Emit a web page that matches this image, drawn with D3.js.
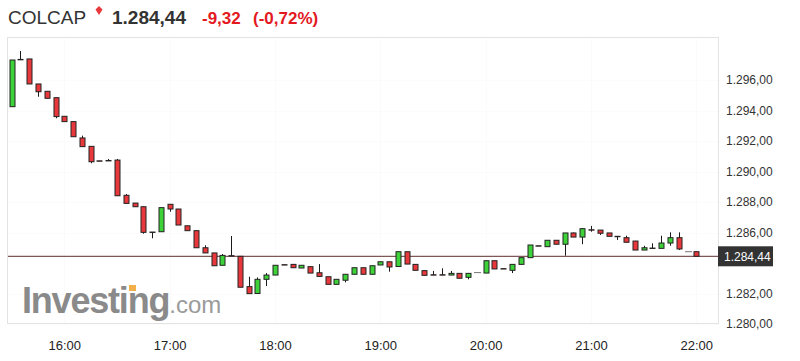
<!DOCTYPE html>
<html>
<head>
<meta charset="utf-8">
<script src="https://cdn.jsdelivr.net/npm/d3@7"></script>
<style>
  body { margin: 0; background: #fff; }
  svg { display: block; font-family: "Liberation Sans", Arial, sans-serif; }
</style>
</head>
<body>
<div id="chart"></div>
<script>
const width = 800;
const height = 361;

// 5 minute candles, first one at 15:30
const startHour = 15, startMinute = 30;
const opens  = [1294.25, 1297.35, 1297.38, 1295.74, 1295.26, 1294.84, 1293.62, 1293.27, 1292.20, 1291.65,
                1290.70, 1290.72, 1290.75, 1288.44, 1287.93, 1287.69, 1286.03, 1286.05, 1287.85, 1287.54,
                1286.44, 1286.12, 1285.00, 1284.66, 1283.85, 1284.48, 1284.44, 1282.45, 1282.00, 1282.93,
                1283.21, 1283.89, 1283.91, 1283.67, 1283.76, 1283.36, 1283.10, 1282.60, 1282.87, 1283.26,
                1283.69, 1283.26, 1283.87, 1284.08, 1283.77, 1284.74, 1283.91, 1283.50, 1283.23, 1283.23,
                1283.21, 1283.32, 1283.06, 1283.37, 1283.34, 1284.15, 1283.63, 1283.52, 1283.91, 1284.35,
                1285.13, 1285.07, 1285.49, 1285.23, 1285.97, 1285.70, 1286.18, 1286.16, 1285.97, 1285.75,
                1285.66, 1285.44, 1284.85, 1284.98, 1284.96, 1285.31, 1285.66, 1284.74, 1284.74];
const highs  = [1297.31, 1297.90, 1297.38, 1295.74, 1295.26, 1294.84, 1293.62, 1293.27, 1292.35, 1291.65,
                1290.70, 1290.82, 1290.82, 1288.52, 1287.93, 1287.69, 1286.03, 1287.63, 1287.85, 1287.54,
                1286.44, 1286.12, 1285.16, 1284.66, 1284.59, 1285.77, 1284.44, 1283.10, 1283.05, 1283.34,
                1283.85, 1283.89, 1283.91, 1283.85, 1283.76, 1283.93, 1283.10, 1282.93, 1283.26, 1283.69,
                1283.69, 1283.82, 1284.08, 1284.08, 1284.74, 1284.74, 1283.91, 1283.50, 1283.48, 1283.65,
                1283.48, 1283.32, 1283.32, 1283.37, 1284.15, 1284.15, 1283.63, 1283.91, 1284.35, 1285.18,
                1285.13, 1285.49, 1285.49, 1285.97, 1286.00, 1286.30, 1286.43, 1286.16, 1285.97, 1285.75,
                1285.79, 1285.44, 1285.13, 1285.29, 1285.79, 1286.01, 1286.01, 1284.74, 1284.74];
const lows   = [1294.25, 1297.33, 1295.74, 1294.90, 1294.80, 1293.49, 1293.27, 1292.28, 1291.63, 1290.54,
                1290.68, 1290.70, 1288.41, 1287.91, 1287.69, 1285.92, 1285.62, 1286.05, 1287.36, 1286.49,
                1286.12, 1285.00, 1284.66, 1283.82, 1283.85, 1284.46, 1282.41, 1281.99, 1282.00, 1282.49,
                1283.21, 1283.87, 1283.69, 1283.67, 1283.34, 1283.12, 1282.60, 1282.60, 1282.73, 1283.26,
                1283.26, 1283.26, 1283.87, 1283.43, 1283.77, 1283.93, 1283.52, 1283.19, 1283.21, 1283.21,
                1283.21, 1283.00, 1282.93, 1283.37, 1283.34, 1283.61, 1283.61, 1283.34, 1283.91, 1284.35,
                1285.11, 1285.07, 1285.23, 1284.48, 1285.70, 1285.23, 1286.05, 1285.84, 1285.75, 1285.51,
                1285.36, 1284.85, 1284.85, 1284.96, 1284.96, 1285.13, 1284.85, 1284.74, 1284.44];
const closes = [1297.31, 1297.33, 1295.74, 1295.23, 1294.80, 1293.60, 1293.27, 1292.28, 1291.63, 1290.64,
                1290.68, 1290.70, 1288.41, 1287.91, 1287.69, 1286.01, 1286.01, 1287.63, 1287.54, 1286.49,
                1286.12, 1285.00, 1284.66, 1283.82, 1284.50, 1284.46, 1282.41, 1281.99, 1282.93, 1283.21,
                1283.85, 1283.87, 1283.69, 1283.85, 1283.34, 1283.12, 1282.60, 1282.93, 1283.26, 1283.69,
                1283.26, 1283.82, 1284.08, 1283.74, 1284.74, 1283.93, 1283.52, 1283.19, 1283.21, 1283.21,
                1283.32, 1283.00, 1283.32, 1283.37, 1284.15, 1283.61, 1283.61, 1283.91, 1284.35, 1285.18,
                1285.11, 1285.49, 1285.23, 1285.97, 1285.70, 1286.25, 1286.16, 1285.95, 1285.75, 1285.73,
                1285.36, 1284.85, 1285.00, 1284.96, 1285.31, 1285.66, 1284.92, 1284.74, 1284.44];

const priceTicks = [1280, 1282, 1286, 1288, 1290, 1292, 1294, 1296];
const hourTicks = [16, 17, 18, 19, 20, 21, 22];
const lastPrice = 1284.44;

const esFormat = d3.formatLocale({decimal: ",", thousands: ".", grouping: [3], currency: ["", ""]}).format(",.2f");

function timeOf(i) {
    return new Date(2024, 0, 2, startHour, startMinute + i * 5);
}

var candles = opens.map(function(o, i) {
    return {time: timeOf(i), open: o, high: highs[i], low: lows[i], close: closes[i]};
});

// scales
var xScale = d3.scaleTime()
    .domain([new Date(2024, 0, 2, 16, 0), new Date(2024, 0, 2, 22, 0)])
    .range([64.3, 696.3]);
var yScale = d3.scaleLinear().domain([1280, 1296]).range([324, 80]);

var svg = d3.select("#chart").append("svg")
    .attr("width", width)
    .attr("height", height);

// plot frame
var plotLeft = 7, plotRight = 718, plotTop = 37, plotBottom = 323;

svg.append("rect")
    .attr("x", plotLeft + 0.5).attr("y", plotTop + 0.5)
    .attr("width", plotRight - plotLeft).attr("height", plotBottom - plotTop)
    .attr("fill", "#fff")
    .attr("stroke", "#e3e3e3");

// grid is almost invisible in the original
svg.append("g").selectAll("line")
    .data(priceTicks)
    .enter().append("line")
    .attr("x1", plotLeft + 1).attr("x2", plotRight)
    .attr("y1", function(d) { return Math.round(yScale(d)) + 0.5; })
    .attr("y2", function(d) { return Math.round(yScale(d)) + 0.5; })
    .attr("stroke", "#fbfbfb");

svg.append("g").selectAll("line")
    .data(hourTicks)
    .enter().append("line")
    .attr("x1", function(d) { return Math.round(xScale(new Date(2024, 0, 2, d, 0))) + 0.5; })
    .attr("x2", function(d) { return Math.round(xScale(new Date(2024, 0, 2, d, 0))) + 0.5; })
    .attr("y1", plotTop + 1).attr("y2", plotBottom)
    .attr("stroke", "#fbfbfb");

// watermark
var logo = svg.append("text")
    .attr("x", 22)
    .attr("y", 313)
    .attr("fill", "#8a8a8a");
logo.append("tspan")
    .attr("font-size", 36)
    .attr("font-weight", "bold")
    .attr("letter-spacing", -1.2)
    .text("Investing");
logo.append("tspan")
    .attr("font-size", 24)
    .attr("fill", "#9a9a9a")
    .text(".com");
svg.append("rect")
    .attr("x", 129).attr("y", 285)
    .attr("width", 7).attr("height", 6)
    .attr("fill", "#f2b04a");

// last price line
svg.append("line")
    .attr("x1", plotLeft + 1).attr("x2", plotRight)
    .attr("y1", yScale(lastPrice)).attr("y2", yScale(lastPrice))
    .attr("stroke", "#7e5757")
    .attr("stroke-width", 1.2);

// candles
var bodyWidth = 5;
var candleG = svg.append("g");

candleG.selectAll(".wick")
    .data(candles.filter(function(d) { return d.high > d.low; }))
    .enter().append("line")
    .attr("class", "wick")
    .attr("x1", function(d) { return Math.round(xScale(d.time)) + 0.5; })
    .attr("x2", function(d) { return Math.round(xScale(d.time)) + 0.5; })
    .attr("y1", function(d) { return yScale(d.high); })
    .attr("y2", function(d) { return yScale(d.low); })
    .attr("stroke", "#1a1a1a")
    .attr("stroke-width", 1);

candleG.selectAll(".body")
    .data(candles.filter(function(d) { return d.open !== d.close; }))
    .enter().append("rect")
    .attr("class", "body")
    .attr("x", function(d) { return Math.round(xScale(d.time)) - 2; })
    .attr("y", function(d) { return yScale(Math.max(d.open, d.close)); })
    .attr("width", bodyWidth)
    .attr("height", function(d) { return Math.max(0.4, Math.abs(yScale(d.open) - yScale(d.close))); })
    .attr("fill", function(d) { return d.close > d.open ? "#3ed23a" : "#e8383c"; })
    .attr("stroke", "#222")
    .attr("stroke-width", 1);

// flat candles (open = close), thin grey dash
candleG.selectAll(".flat")
    .data(candles.filter(function(d) { return d.open === d.close; }))
    .enter().append("line")
    .attr("class", "flat")
    .attr("x1", function(d) { return Math.round(xScale(d.time)) - 3; })
    .attr("x2", function(d) { return Math.round(xScale(d.time)) + 4; })
    .attr("y1", function(d) { return yScale(d.open); })
    .attr("y2", function(d) { return yScale(d.open); })
    .attr("stroke", "#777")
    .attr("stroke-width", 1);

// y axis labels (right)
var yAxis = d3.axisRight(yScale)
    .tickValues(priceTicks)
    .tickSize(0)
    .tickPadding(0)
    .tickFormat(esFormat);

var yAxisG = svg.append("g")
    .attr("transform", "translate(726,0)")
    .call(yAxis);
yAxisG.select(".domain").remove();
yAxisG.selectAll("text")
    .attr("font-family", "Liberation Sans, Arial, sans-serif")
    .attr("font-size", 12)
    .attr("fill", "#333");

// last price marker
svg.append("rect")
    .attr("x", 718).attr("y", yScale(lastPrice) - 10)
    .attr("width", 55).attr("height", 20)
    .attr("fill", "#333");
svg.append("text")
    .attr("x", 724)
    .attr("y", yScale(lastPrice) + 4.5)
    .attr("font-size", 12)
    .attr("fill", "#fff")
    .text(esFormat(lastPrice));

// x axis labels
var xAxis = d3.axisBottom(xScale)
    .tickValues(hourTicks.map(function(h) { return new Date(2024, 0, 2, h, 0); }))
    .tickSize(0)
    .tickPadding(0)
    .tickFormat(d3.timeFormat("%H:%M"));

var xAxisG = svg.append("g")
    .attr("transform", "translate(0,341)")
    .call(xAxis);
xAxisG.select(".domain").remove();
xAxisG.selectAll("text")
    .attr("font-family", "Liberation Sans, Arial, sans-serif")
    .attr("font-size", 13)
    .attr("fill", "#222");

// header
svg.append("text")
    .attr("x", 8).attr("y", 23.5)
    .attr("font-size", 19)
    .attr("fill", "#333")
    .text("COLCAP");

svg.append("path")
    .attr("d", "M95.5,9.5 L99,6 L102.5,9.5 L99,15 Z")
    .attr("fill", "#e8383c");

svg.append("text")
    .attr("x", 112).attr("y", 23.5)
    .attr("font-size", 19)
    .attr("font-weight", "bold")
    .attr("fill", "#333")
    .text(esFormat(lastPrice));

svg.append("text")
    .attr("x", 202).attr("y", 23.5)
    .attr("font-size", 17)
    .attr("font-weight", "bold")
    .attr("fill", "#e3191f")
    .text("-9,32");

svg.append("text")
    .attr("x", 253).attr("y", 23.5)
    .attr("font-size", 17)
    .attr("font-weight", "bold")
    .attr("fill", "#e3191f")
    .text("(-0,72%)");
</script>
</body>
</html>
